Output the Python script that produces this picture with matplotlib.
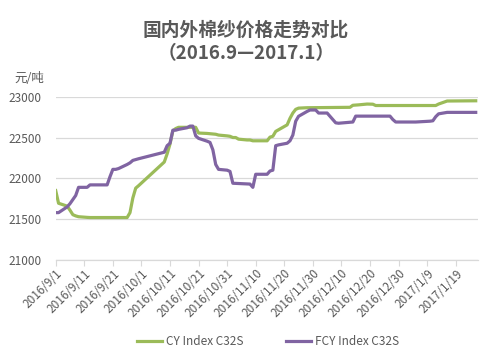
import matplotlib
matplotlib.use("Agg")
import matplotlib.pyplot as plt
import matplotlib.dates as mdates
from matplotlib.ticker import FuncFormatter, FixedLocator
import datetime as dt

plt.rcParams['font.family'] = ['Noto Sans CJK SC', 'DejaVu Sans']

title = "国内外棉纱价格走势对比\n（2016.9—2017.1）"
unit_label = "元/吨"
series_names = ["CY Index C32S", "FCY Index C32S"]

cy_dates = ["2016-09-01", "2016-09-02", "2016-09-05", "2016-09-06", "2016-09-07", "2016-09-08",
            "2016-09-09", "2016-09-12", "2016-09-13", "2016-09-26", "2016-09-27", "2016-09-28",
            "2016-09-29", "2016-09-30", "2016-10-09", "2016-10-10", "2016-10-11", "2016-10-12",
            "2016-10-13", "2016-10-14", "2016-10-20", "2016-10-21", "2016-10-24", "2016-10-27",
            "2016-10-28", "2016-10-31", "2016-11-01", "2016-11-02", "2016-11-03", "2016-11-04",
            "2016-11-07", "2016-11-08", "2016-11-09", "2016-11-14", "2016-11-15", "2016-11-16",
            "2016-11-17", "2016-11-18", "2016-11-21", "2016-11-22", "2016-11-23", "2016-11-24",
            "2016-11-25", "2016-11-28", "2016-12-13", "2016-12-14", "2016-12-16", "2016-12-19",
            "2016-12-21", "2016-12-22", "2017-01-12", "2017-01-13", "2017-01-16", "2017-01-26"]
cy_values = [21850, 21695, 21660, 21610, 21555, 21540,
             21530, 21522, 21520, 21520, 21580, 21760,
             21880, 21910, 22200, 22300, 22420, 22580,
             22610, 22625, 22625, 22555, 22550, 22540,
             22530, 22520, 22515, 22500, 22500, 22480,
             22470, 22470, 22460, 22460, 22505, 22515,
             22575, 22595, 22655, 22735, 22800, 22845,
             22860, 22865, 22870, 22895, 22900, 22910,
             22908, 22892, 22892, 22910, 22947, 22950]

fcy_dates = ["2016-09-01", "2016-09-02", "2016-09-05", "2016-09-06", "2016-09-07", "2016-09-08",
             "2016-09-09", "2016-09-12", "2016-09-13", "2016-09-19", "2016-09-20", "2016-09-21",
             "2016-09-22", "2016-09-23", "2016-09-26", "2016-09-27", "2016-09-28", "2016-09-29",
             "2016-09-30", "2016-10-09", "2016-10-10", "2016-10-11", "2016-10-12", "2016-10-13",
             "2016-10-14", "2016-10-17", "2016-10-18", "2016-10-19", "2016-10-20", "2016-10-21",
             "2016-10-24", "2016-10-25", "2016-10-26", "2016-10-27", "2016-10-28", "2016-10-31",
             "2016-11-01", "2016-11-02", "2016-11-08", "2016-11-09", "2016-11-10", "2016-11-14",
             "2016-11-15", "2016-11-16", "2016-11-17", "2016-11-18", "2016-11-21", "2016-11-22",
             "2016-11-23", "2016-11-24", "2016-11-25", "2016-11-28", "2016-11-29", "2016-12-01",
             "2016-12-02", "2016-12-05", "2016-12-06", "2016-12-07", "2016-12-08", "2016-12-09",
             "2016-12-14", "2016-12-15", "2016-12-27", "2016-12-28", "2016-12-29", "2017-01-05",
             "2017-01-10", "2017-01-11", "2017-01-12", "2017-01-13", "2017-01-16", "2017-01-26"]
fcy_values = [21580, 21580, 21650, 21690, 21740, 21790,
              21890, 21890, 21920, 21920, 22020, 22110,
              22110, 22120, 22170, 22190, 22220, 22230,
              22240, 22320, 22400, 22430, 22590, 22590,
              22600, 22620, 22640, 22640, 22520, 22490,
              22455, 22440, 22350, 22170, 22110, 22100,
              22085, 21940, 21930, 21890, 22050, 22050,
              22090, 22100, 22400, 22410, 22430, 22460,
              22530, 22700, 22760, 22820, 22837, 22837,
              22800, 22800, 22760, 22720, 22680, 22675,
              22690, 22762, 22762, 22720, 22690, 22690,
              22700, 22705, 22755, 22790, 22808, 22808]

tick_dates = ["2016-09-01", "2016-09-11", "2016-09-21", "2016-10-01", "2016-10-11", "2016-10-21",
              "2016-10-31", "2016-11-10", "2016-11-20", "2016-11-30", "2016-12-10", "2016-12-20",
              "2016-12-30", "2017-01-09", "2017-01-19"]
y_ticks = [21000, 21500, 22000, 22500, 23000]

colors = ["#9BBB59", "#8064A2"]
gray = "#595959"

def to_dt(s):
    return dt.datetime.strptime(s, "%Y-%m-%d")

fig = plt.figure(figsize=(5.02, 3.58), dpi=100)
W, H = 502, 358
ax = fig.add_axes([55.7 / W, 1 - 260 / H, (478 - 55.7) / W, (260 - 96.7) / H])

ax.plot([to_dt(d) for d in cy_dates], cy_values, color=colors[0], lw=2.3,
        solid_joinstyle='round', label=series_names[0])
ax.plot([to_dt(d) for d in fcy_dates], fcy_values, color=colors[1], lw=2.3,
        solid_joinstyle='round', label=series_names[1])

x0 = to_dt("2016-09-01")
ax.set_xlim(mdates.date2num(x0), mdates.date2num(x0) + 147.8)
ax.set_ylim(21000, 23000)
ax.set_yticks(y_ticks)
ax.grid(axis='y', color='#D9D9D9', lw=0.9)
ax.set_axisbelow(True)
for s in ['left', 'right', 'top']:
    ax.spines[s].set_visible(False)
ax.spines['bottom'].set_color('#D9D9D9')
ax.spines['bottom'].set_linewidth(0.9)
ax.tick_params(axis='y', length=0, labelsize=8.5, labelcolor=gray, pad=10)

ax.xaxis.set_major_locator(FixedLocator([mdates.date2num(to_dt(d)) for d in tick_dates]))
ax.xaxis.set_major_formatter(FuncFormatter(
    lambda v, p: (lambda d: f"{d.year}/{d.month}/{d.day}")(mdates.num2date(v))))
ax.tick_params(axis='x', length=4, color='#D9D9D9', labelsize=8.5, labelcolor=gray, pad=1)
for lab in ax.get_xticklabels():
    lab.set_rotation(45)
    lab.set_ha('right')
    lab.set_rotation_mode('anchor')

fig.text(246 / W, 1 - 42 / H, title, ha='center', va='center', fontsize=13.5,
         fontweight='bold', color=gray, linespacing=1.3)
fig.text(14 / W, 1 - 78 / H, unit_label, ha='left', va='center', fontsize=9, color=gray)

leg = fig.legend(loc='center', bbox_to_anchor=(268 / W, 1 - 341.5 / H), ncol=2, frameon=False,
                 fontsize=8.5, handlelength=2.1, columnspacing=3.6, handletextpad=0.35)
for t in leg.get_texts():
    t.set_color(gray)

fig.savefig("out.png", dpi=100)
